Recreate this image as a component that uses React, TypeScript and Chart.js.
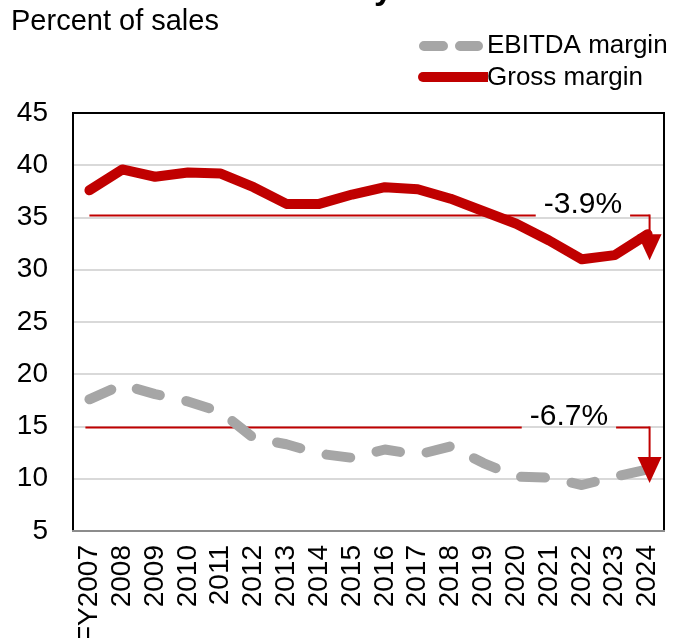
import { useEffect, useRef } from 'react';
import { Chart, registerables } from 'chart.js';
Chart.register(...registerables);

const years = ['FY2007', '2008', '2009', '2010', '2011', '2012', '2013', '2014', '2015', '2016', '2017', '2018', '2019', '2020', '2021', '2022', '2023', '2024'];
const grossMargin = [37.6, 39.6, 38.9, 39.3, 39.2, 37.9, 36.3, 36.3, 37.2, 37.9, 37.7, 36.8, 35.6, 34.4, 32.8, 31.0, 31.4, 33.4];
const ebitdaMargin = [17.6, 19.0, 18.1, 17.4, 16.4, 13.9, 13.3, 12.4, 12.0, 12.8, 12.3, 13.1, 11.5, 10.2, 10.1, 9.4, 10.2, 10.9];
const yTicks = [5, 10, 15, 20, 25, 30, 35, 40, 45];
const changeLabels = ['-3.9%', '-6.7%'];
const bracketLevels = [35.2, 15.0];
const arrowTips = [30.9, 9.6];

const RED = '#C00000';
const GREY = '#A6A6A6';
const FONT = '"Liberation Sans", Arial, sans-serif';

export default function App() {
  const ref = useRef<HTMLCanvasElement>(null);
  useEffect(() => {
    const overlay = {
      id: 'overlay',
      beforeDatasetsDraw(chart: any) {
        const { ctx, chartArea: a, scales } = chart;
        const x = scales.x, y = scales.y;
        ctx.save();
        // plot border
        ctx.lineWidth = 2;
        ctx.strokeStyle = '#000';
        ctx.beginPath();
        ctx.moveTo(a.left, a.bottom);
        ctx.lineTo(a.left, a.top);
        ctx.lineTo(a.right, a.top);
        ctx.lineTo(a.right, a.bottom);
        ctx.stroke();
        ctx.strokeStyle = '#8c8c8c';
        ctx.beginPath();
        ctx.moveTo(a.left - 1, a.bottom);
        ctx.lineTo(a.right + 1, a.bottom);
        ctx.stroke();
        // bracket horizontal lines with labels
        const starts = [x.getPixelForValue(0), x.getPixelForValue(0) - 4];
        const centers = [x.getPixelForValue(15) + 1, x.getPixelForValue(15) - 13];
        ctx.font = `30px ${FONT}`;
        changeLabels.forEach((lab, i) => {
          const ly = Math.round(y.getPixelForValue(bracketLevels[i])) + 0.5;
          const xe = x.getPixelForValue(years.length - 1) + 2;
          const tw = ctx.measureText(lab).width;
          const g0 = centers[i] - tw / 2 - 8, g1 = centers[i] + tw / 2 + 8;
          ctx.strokeStyle = RED;
          ctx.lineWidth = 2;
          ctx.beginPath();
          ctx.moveTo(starts[i], ly);
          ctx.lineTo(g0, ly);
          ctx.moveTo(g1, ly);
          ctx.lineTo(xe, ly);
          ctx.stroke();
          ctx.fillStyle = '#000';
          ctx.textAlign = 'center';
          ctx.textBaseline = 'middle';
          ctx.fillText(lab, centers[i], ly - 11);
        });
        ctx.restore();
      },
      afterDatasetsDraw(chart: any) {
        const { ctx, scales } = chart;
        const x = scales.x, y = scales.y;
        ctx.save();
        changeLabels.forEach((_, i) => {
          const ly = Math.round(y.getPixelForValue(bracketLevels[i])) + 0.5;
          const tip = y.getPixelForValue(arrowTips[i]);
          const xe = x.getPixelForValue(years.length - 1) + 2;
          const ah = 26, aw = 24;
          ctx.strokeStyle = RED;
          ctx.lineWidth = 2;
          ctx.beginPath();
          ctx.moveTo(xe, ly - 1);
          ctx.lineTo(xe, tip - ah + 2);
          ctx.stroke();
          ctx.fillStyle = RED;
          ctx.beginPath();
          ctx.moveTo(xe - aw / 2, tip - ah);
          ctx.lineTo(xe + aw / 2, tip - ah);
          ctx.lineTo(xe, tip);
          ctx.closePath();
          ctx.fill();
        });
        ctx.restore();
      },
      afterDraw(chart: any) {
        const { ctx } = chart;
        ctx.save();
        // title (clipped at top)
        ctx.font = `bold 34px ${FONT}`;
        ctx.fillStyle = '#000';
        ctx.textAlign = 'right';
        ctx.textBaseline = 'alphabetic';
        ctx.fillText('Profitability', 393, -1);
        // y unit
        ctx.font = `29px ${FONT}`;
        ctx.textAlign = 'left';
        ctx.textBaseline = 'middle';
        ctx.fillText('Percent of sales', 11, 22);
        // legend
        ctx.font = `26px ${FONT}`;
        ctx.fillText('EBITDA margin', 487, 46);
        ctx.fillText('Gross margin', 487, 78);
        ctx.lineWidth = 10;
        ctx.lineCap = 'round';
        ctx.strokeStyle = GREY;
        ctx.beginPath();
        ctx.moveTo(424, 46); ctx.lineTo(443, 46);
        ctx.moveTo(460, 46); ctx.lineTo(478, 46);
        ctx.stroke();
        ctx.strokeStyle = RED;
        ctx.beginPath();
        ctx.moveTo(423, 77); ctx.lineTo(445, 77);
        ctx.stroke();
        ctx.lineCap = 'butt';
        ctx.beginPath();
        ctx.moveTo(440, 77); ctx.lineTo(488, 77);
        ctx.stroke();
        ctx.restore();
      },
    };

    const chart = new Chart(ref.current!, {
      type: 'line',
      data: {
        labels: years,
        datasets: [
          {
            label: 'Gross margin',
            data: grossMargin,
            borderColor: RED,
            backgroundColor: RED,
            borderWidth: 10,
            pointRadius: 0,
            borderJoinStyle: 'round',
            borderCapStyle: 'round',
            tension: 0,
          },
          {
            label: 'EBITDA margin',
            data: ebitdaMargin,
            borderColor: GREY,
            backgroundColor: GREY,
            borderWidth: 10,
            borderDash: [24, 27],
            borderCapStyle: 'round',
            borderJoinStyle: 'round',
            pointRadius: 0,
            tension: 0,
          },
        ],
      },
      options: {
        responsive: false,
        animation: false,
        devicePixelRatio: 1,
        layout: { padding: { top: 113, right: 13, left: 0, bottom: 0 } },
        plugins: { legend: { display: false }, tooltip: { enabled: false } },
        scales: {
          x: {
            offset: true,
            grid: { display: false, drawTicks: false },
            border: { display: false },
            ticks: {
              color: '#000',
              font: { family: FONT, size: 28 },
              minRotation: 90,
              maxRotation: 90,
              padding: 14,
              autoSkip: false,
            },
            afterFit: (s: any) => { s.height = 107; s.paddingLeft = 0; s.paddingRight = 0; },
          },
          y: {
            min: yTicks[0],
            max: yTicks[yTicks.length - 1],
            afterBuildTicks: (s: any) => { s.ticks = yTicks.map((v) => ({ value: v })); },
            grid: {
              drawTicks: false,
              lineWidth: 2,
              color: (c: any) => (c.tick && (c.tick.value === 5 || c.tick.value === 45) ? 'rgba(0,0,0,0)' : '#d9d9d9'),
            },
            border: { display: false },
            ticks: {
              color: '#000',
              font: { family: FONT, size: 28 },
              padding: 25,
            },
            afterFit: (s: any) => { s.width = 73; s.paddingTop = 0; s.paddingBottom = 0; },
          },
        },
      },
      plugins: [overlay],
    });
    return () => chart.destroy();
  }, []);
  return (
    <div style={{ position: 'absolute', left: 0, top: 0, width: 677, height: 638 }}>
      <canvas ref={ref} width={677} height={638} style={{ width: 677, height: 638, display: 'block' }} />
    </div>
  );
}
